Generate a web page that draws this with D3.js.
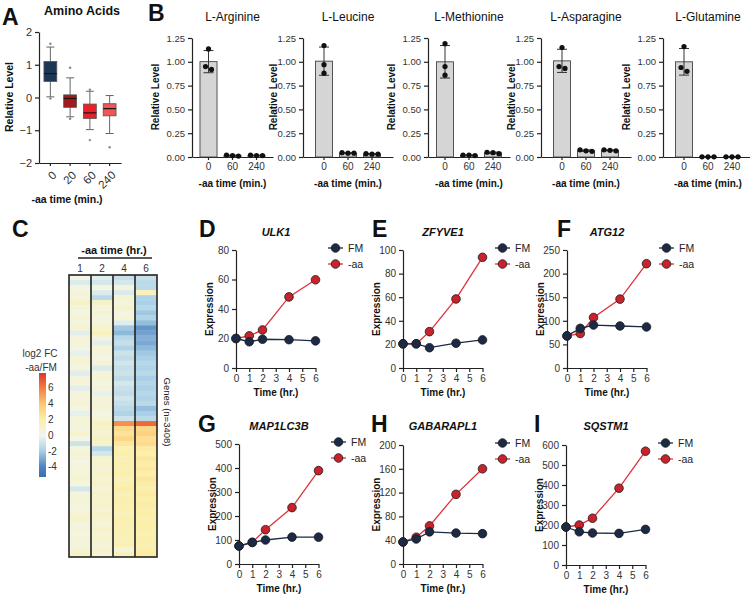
<!DOCTYPE html>
<html>
<head>
<meta charset="utf-8">
<script src="https://cdn.jsdelivr.net/npm/d3@7"></script>
<style>
  body { margin: 0; background: #fff; }
  svg { font-family: "Liberation Sans", Arial, Helvetica, sans-serif; }
</style>
</head>
<body>
<svg id="fig" width="750" height="595"></svg>
<script>
// ---------- data ----------

// A: amino acid levels, box plot per -aa time (min.)
const aaGroups = ["0", "20", "60", "240"];
const aaQ1 = [0.49, -0.30, -0.64, -0.56];
const aaMedian = [0.73, -0.03, -0.47, -0.34];
const aaQ3 = [1.10, 0.08, -0.20, -0.19];
const aaWhiskLo = [0.02, -0.59, -0.98, -1.10];
const aaWhiskHi = [1.54, 0.60, 0.19, 0.06];
const aaOutliers = [[1.64, -0.03], [0.91, -0.65], [0.24, -1.30], [-1.52]];
const aaColors = ["#1e3656", "#a3191d", "#e8222a", "#ef5656"];

// B: single amino acids, 3 replicates per time point
const bCompounds = ["L-Arginine", "L-Leucine", "L-Methionine", "L-Asparagine", "L-Glutamine"];
const bTimes = ["0", "60", "240"];
const argReps = [[1.135, 0.92, 0.95], [0.01, 0.02, 0.015], [0.015, 0.02, 0.015]];
const leuReps = [[1.17, 0.97, 0.88], [0.04, 0.045, 0.04], [0.03, 0.035, 0.03]];
const metReps = [[1.19, 0.95, 0.86], [0.015, 0.02, 0.02], [0.035, 0.05, 0.045]];
const asnReps = [[1.15, 0.93, 0.95], [0.06, 0.075, 0.065], [0.065, 0.075, 0.07]];
const glnReps = [[1.16, 0.94, 0.90], [0.002, 0.002, 0.002], [0.002, 0.002, 0.002]];
const bTicks = [0, 0.25, 0.5, 0.75, 1.0, 1.25];

// C: heat map of log2 FC (-aa/FM), rows top to bottom, one array per time (hr.)
const hmTimes = ["1", "2", "4", "6"];
const hm1 = [0.3, -0.6, 0.4, 0.6, 0.5, 1.2, 0.6, 0.4, 0.8, 0.5, 0.9, -0.4, 0.5, 0.7, 0.3, -0.3, 0.6, 0.8, 0.4, -0.5,
  0.5, 0.7, -0.4, 0.6, 0.5, 0.8, 0.4, -0.3, 0.6, 0.7, 0.5, 1.0, 0.4, -1.0, 0.6, 0.8, 0.5, 0.3, 0.7, 0.5,
  0.9, 0.4, -0.8, 0.5, 0.7, 0.6, 0.4, 0.8, 1.1, 0.5, 0.6, 0.4, 0.7, 0.5, 0.8, 1.2];
const hm2 = [-0.5, -0.8, 0.4, -0.6, -1.5, 1.2, 0.5, 0.8, 0.3, 0.6, 0.9, 1.4, 0.5, -0.4, 0.7, 0.6, 0.3, 0.8, -0.6, 0.5,
  0.7, 0.4, 0.6, -0.3, 0.5, 0.8, 0.6, 0.4, 0.7, 1.3, 1.0, 0.8, 1.2, 1.0, -1.6, -0.8, 0.9, 1.0, 0.8, 1.1,
  0.9, 1.0, 0.7, 1.0, 0.9, 1.1, 0.8, 1.0, 0.9, 0.7, 1.0, 0.8, 0.9, 0.6, 1.0, 0.8];
const hm4 = [-1.2, -0.8, 0.5, -0.6, 0.8, 0.6, 1.0, 0.4, 0.7, -0.5, -2.2, -2.6, -1.6, -1.2, -1.8, -1.0, -1.3, -0.9, -1.2, -1.0,
  -1.4, -0.8, -1.1, -1.3, -0.9, -1.2, -1.5, -1.8, -1.0, 5.5, 3.0, 2.6, 3.2, 2.4, 1.8, 2.0, 1.6, 1.9, 1.7, 2.0,
  1.5, 1.8, 2.1, 1.6, 1.9, 1.7, 1.8, 1.5, 1.9, 1.7, 1.6, 1.8, 1.4, 1.7, 0.6, 1.5];
const hm6 = [-1.2, -1.5, -1.5, 1.5, -1.8, -2.0, -1.6, -2.2, -1.8, -2.5, -3.5, -3.2, -2.8, -3.0, -2.6, -2.2, -2.0, -1.6, -1.8, -1.5,
  -2.0, -1.7, -1.9, -1.6, -1.8, -1.5, -2.4, -2.0, -1.5, 6.5, 3.2, 3.5, 2.8, 3.0, 2.2, 2.0, 2.4, 2.1, 2.3, 2.0,
  2.5, 2.1, 1.9, 2.2, 2.0, 2.1, 1.9, 2.0, 1.8, 2.0, 1.9, 1.8, 2.0, 1.7, 1.9, 2.1];
const hmLegendTicks = [6, 4, 2, 0, -2, -4];

// D-I: expression over time (hr.)
const timeHr = [0, 1, 2, 4, 6];
const genes = ["ULK1", "ZFYVE1", "ATG12", "MAP1LC3B", "GABARAPL1", "SQSTM1"];
const ulk1FM = [20, 17.8, 19.5, 19.2, 18.4];
const ulk1AA = [20, 21.8, 25.8, 48.2, 59.8];
const zfyve1FM = [20.5, 20.5, 17.2, 21, 23.8];
const zfyve1AA = [20.5, 20.5, 30.8, 58.5, 93.8];
const atg12FM = [68, 84, 91, 89, 87];
const atg12AA = [68, 73, 107, 146, 221];
const lc3bFM = [75, 90, 100, 112, 112];
const lc3bAA = [75, 90, 143, 235, 389];
const gabarapl1FM = [37, 42, 54, 52, 51];
const gabarapl1AA = [37, 45, 64, 117, 160];
const sqstm1FM = [190, 166, 160, 158, 178];
const sqstm1AA = [190, 200, 234, 384, 569];

// ---------- drawing ----------
const svg = d3.select("#fig");
const ink = "#222";
const navy = "#1c2a45", redFill = "#c8232c", redLine = "#e0323a";

function styleAxis(g, fs) {
  g.attr("font-family", null).attr("font-size", null);
  g.selectAll("path.domain").attr("stroke", ink).attr("stroke-width", 1.2);
  g.selectAll(".tick line").attr("stroke", ink).attr("stroke-width", 1.2);
  g.selectAll(".tick text").attr("fill", "#333").attr("font-size", fs);
}

function label(t, x, y, size, opts = {}) {
  const el = svg.append("text").attr("x", x).attr("y", y).attr("font-size", size)
    .attr("fill", opts.fill || "#111").text(t);
  if (opts.bold) el.attr("font-weight", "bold");
  if (opts.italic) el.attr("font-style", "italic");
  if (opts.anchor) el.attr("text-anchor", opts.anchor);
  if (opts.rotate) el.attr("transform", `rotate(${opts.rotate},${x},${y})`);
  return el;
}

// panel letters
[["A", 2, 25], ["B", 148, 21], ["C", 12, 237], ["D", 199, 237], ["E", 372, 237], ["F", 557, 237],
 ["G", 198, 432], ["H", 371, 432], ["I", 534, 432]].forEach(([t, x, y]) => label(t, x, y, 23, { bold: true }));

// ===== A =====
const ayA = d3.scaleLinear().domain([-2, 2]).range([163, 32]);
const axA = d3.scaleBand().domain(aaGroups).range([39, 121]).paddingInner(0.35).paddingOuter(0.25);
const gA = svg.append("g");
gA.append("g").attr("transform", "translate(39,0)")
  .call(d3.axisLeft(ayA).tickValues([-2, -1, 0, 1, 2]).tickSize(4).tickSizeOuter(0).tickFormat(d3.format("d")))
  .call(g => styleAxis(g, 11));
gA.append("g").attr("transform", "translate(0,163)")
  .call(d3.axisBottom(axA).tickSize(3).tickSizeOuter(0))
  .call(g => styleAxis(g, 11.5))
  .call(g => g.selectAll(".tick text").attr("text-anchor", "end").attr("x", 0).attr("y", 0)
    .attr("dy", "0.35em").attr("transform", "translate(4,10) rotate(-45)"));

aaGroups.forEach((grp, i) => {
  const cx = axA(grp) + axA.bandwidth() / 2, bw = axA.bandwidth();
  const w = gA.append("g");
  w.append("line").attr("x1", cx).attr("x2", cx).attr("y1", ayA(aaWhiskLo[i])).attr("y2", ayA(aaWhiskHi[i]))
    .attr("stroke", "#666").attr("stroke-width", 1);
  [aaWhiskLo[i], aaWhiskHi[i]].forEach(v => w.append("line").attr("x1", cx - 4).attr("x2", cx + 4)
    .attr("y1", ayA(v)).attr("y2", ayA(v)).attr("stroke", "#666").attr("stroke-width", 1));
  w.append("rect").attr("x", cx - bw / 2).attr("width", bw).attr("y", ayA(aaQ3[i]))
    .attr("height", ayA(aaQ1[i]) - ayA(aaQ3[i])).attr("fill", aaColors[i]).attr("stroke", "#555").attr("stroke-width", 0.8);
  w.append("line").attr("x1", cx - bw / 2).attr("x2", cx + bw / 2).attr("y1", ayA(aaMedian[i])).attr("y2", ayA(aaMedian[i]))
    .attr("stroke", "#151515").attr("stroke-width", 1.2);
  aaOutliers[i].forEach(v => w.append("circle").attr("cx", cx).attr("cy", ayA(v)).attr("r", 1.2).attr("fill", "#888"));
});
label("Amino Acids", 82, 15, 12.5, { bold: true, anchor: "middle" });
label("Relative Level", 13, 97, 10.5, { bold: true, anchor: "middle", rotate: -90 });
label("-aa time (min.)", 67, 203, 10.5, { bold: true, anchor: "middle" });

// ===== B =====
const bRepsAll = [argReps, leuReps, metReps, asnReps, glnReps];
const bAxisX = [192, 303, 428, 541, 663];
const bFirstOff = [16.5, 21, 17, 21, 21];
const bStep = 24, bPadIn = 0.29;
const byB = d3.scaleLinear().domain([0, 1.25]).range([157, 38]);

function swarmOffsets(vals, y, d, step) {
  const idx = vals.map((v, i) => i).sort((a, b) => vals[b] - vals[a]);
  const out = new Array(vals.length).fill(0);
  let cluster = [idx[0]];
  const flush = () => cluster.forEach((k, j) => out[k] = (j - (cluster.length - 1) / 2) * step);
  for (let n = 1; n < idx.length; n++) {
    if (Math.abs(y(vals[idx[n]]) - y(vals[cluster[cluster.length - 1]])) < d) cluster.push(idx[n]);
    else { flush(); cluster = [idx[n]]; }
  }
  flush();
  return out;
}

bCompounds.forEach((name, p) => {
  const ax0 = bAxisX[p];
  const bw = bStep * (1 - bPadIn);
  const po = (bFirstOff[p] - bw / 2) / bStep;
  const x = d3.scaleBand().domain(bTimes).range([ax0, ax0 + bStep * (3 - bPadIn + 2 * po)])
    .paddingInner(bPadIn).paddingOuter(po);
  const g = svg.append("g");
  g.append("g").attr("transform", `translate(${ax0},0)`)
    .call(d3.axisLeft(byB).tickValues(bTicks).tickSize(4).tickSizeOuter(0).tickFormat(d3.format(".2f")))
    .call(a => styleAxis(a, 9.5));
  g.append("g").attr("transform", "translate(0,157)")
    .call(d3.axisBottom(x).tickSize(3).tickSizeOuter(0))
    .call(a => styleAxis(a, 10));
  const reps = bRepsAll[p];
  bTimes.forEach((t, i) => {
    const m = d3.mean(reps[i]), sd = d3.deviation(reps[i]);
    const cx = x(t) + x.bandwidth() / 2;
    g.append("rect").attr("x", x(t)).attr("width", x.bandwidth()).attr("y", byB(m))
      .attr("height", byB(0) - byB(m)).attr("fill", "#d5d5d5").attr("stroke", "#444").attr("stroke-width", 0.9);
    g.append("line").attr("x1", cx).attr("x2", cx).attr("y1", byB(m - sd)).attr("y2", byB(m + sd))
      .attr("stroke", "#333").attr("stroke-width", 1);
    [m - sd, m + sd].forEach(v => g.append("line").attr("x1", cx - 5).attr("x2", cx + 5)
      .attr("y1", byB(v)).attr("y2", byB(v)).attr("stroke", "#333").attr("stroke-width", 1));
    const offs = swarmOffsets(reps[i], byB, 5.5, 6);
    reps[i].forEach((v, k) => g.append("circle").attr("cx", cx + offs[k]).attr("cy", byB(v))
      .attr("r", 2.6).attr("fill", "#111"));
  });
  const rEnd = x.range()[1];
  label(name, (ax0 + rEnd) / 2, 21, 12, { anchor: "middle" });
  label("Relative Level", ax0 - (p % 2 === 0 ? 33 : 26), 97, 10, { bold: true, anchor: "middle", rotate: -90 });
  label("-aa time (min.)", (ax0 + rEnd) / 2, 187, 10, { bold: true, anchor: "middle" });
});

// ===== C =====
const hmCols = [hm1, hm2, hm4, hm6];
const hmTop = 275, hmBottom = 557;
const hmX = d3.scaleBand().domain(hmTimes).range([69, 157]);
const hmColor = d3.scaleLinear()
  .domain([-5.3, -4, -2, 0, 2, 4, 6, 8])
  .range(["#3d6db0", "#4f82bf", "#a9d0e6", "#f1f6ee", "#fbefaa", "#fdc771", "#f47c40", "#d7352a"])
  .clamp(true);
const gC = svg.append("g");
hmCols.forEach((col, c) => {
  const h = (hmBottom - hmTop) / col.length;
  gC.append("g").selectAll("rect").data(col).join("rect")
    .attr("x", hmX(hmTimes[c])).attr("width", hmX.bandwidth())
    .attr("y", (d, i) => hmTop + i * h).attr("height", h + 0.4)
    .attr("fill", d => hmColor(d));
});
hmTimes.slice(1).forEach(t => gC.append("line").attr("x1", hmX(t)).attr("x2", hmX(t))
  .attr("y1", hmTop).attr("y2", hmBottom).attr("stroke", "#222").attr("stroke-width", 1.6));
gC.append("rect").attr("x", 69).attr("y", hmTop).attr("width", 88).attr("height", hmBottom - hmTop)
  .attr("fill", "none").attr("stroke", "#222").attr("stroke-width", 1.6);
hmTimes.forEach(t => label(t, hmX(t) + hmX.bandwidth() / 2, 272, 10, { anchor: "middle", fill: "#333" }));
label("-aa time (hr.)", 114, 254, 11, { bold: true, anchor: "middle" });
gC.append("line").attr("x1", 78).attr("x2", 152).attr("y1", 258).attr("y2", 258).attr("stroke", "#222").attr("stroke-width", 1.3);
label("Genes (n=3408)", 164, 412, 9.5, { anchor: "middle", rotate: 90, fill: "#222" });

// colour bar
const cbY = d3.scaleLinear().domain([-5.3, 7.9]).range([477, 373]);
const grad = svg.append("defs").append("linearGradient").attr("id", "cbGrad")
  .attr("x1", 0).attr("y1", 0).attr("x2", 0).attr("y2", 1);
d3.range(0, 21).forEach(k => {
  const v = 7.9 - k * (13.2 / 20);
  grad.append("stop").attr("offset", `${k * 5}%`).attr("stop-color", hmColor(v));
});
gC.append("rect").attr("x", 39).attr("y", 373).attr("width", 7).attr("height", 104).attr("fill", "url(#cbGrad)");
hmLegendTicks.forEach(v => label(v, 48, cbY(v) + 3.5, 10, { fill: "#333" }));
label("log2 FC", 40, 357, 10, { anchor: "middle", fill: "#333" });
label("-aa/FM", 41, 371, 10, { anchor: "middle", fill: "#333" });

// ===== D-I =====
const linePanels = [
  { ax: 236, top: 250, bottom: 368, ymax: 80, ystep: 20, fm: ulk1FM, aa: ulk1AA, titleY: 236 },
  { ax: 403, top: 250, bottom: 368, ymax: 100, ystep: 20, fm: zfyve1FM, aa: zfyve1AA, titleY: 236 },
  { ax: 567, top: 250, bottom: 368, ymax: 250, ystep: 50, fm: atg12FM, aa: atg12AA, titleY: 236 },
  { ax: 239, top: 444, bottom: 564, ymax: 500, ystep: 100, fm: lc3bFM, aa: lc3bAA, titleY: 430 },
  { ax: 403, top: 445, bottom: 564, ymax: 200, ystep: 40, fm: gabarapl1FM, aa: gabarapl1AA, titleY: 430 },
  { ax: 566, top: 445, bottom: 565, ymax: 600, ystep: 100, fm: sqstm1FM, aa: sqstm1AA, titleY: 430 }
];

linePanels.forEach((p, i) => {
  const x = d3.scaleLinear().domain([0, 6]).range([p.ax, p.ax + 79.5]);
  const y = d3.scaleLinear().domain([0, p.ymax]).range([p.bottom, p.top]);
  const g = svg.append("g");
  g.append("g").attr("transform", `translate(${p.ax},0)`)
    .call(d3.axisLeft(y).tickValues(d3.range(0, p.ymax + 1, p.ystep)).tickSize(4).tickSizeOuter(0).tickFormat(d3.format("d")))
    .call(a => styleAxis(a, 10));
  g.append("g").attr("transform", `translate(0,${p.bottom})`)
    .call(d3.axisBottom(x).tickValues(d3.range(0, 7)).tickSize(4).tickSizeOuter(0).tickFormat(d3.format("d")))
    .call(a => styleAxis(a, 10));
  const line = d3.line().x((d, k) => x(timeHr[k])).y(d => y(d));
  [[p.aa, redLine, redFill], [p.fm, navy, navy]].forEach(([vals, lc, fc]) => {
    g.append("path").attr("d", line(vals)).attr("fill", "none").attr("stroke", lc).attr("stroke-width", 1.3);
    g.selectAll(null).data(vals).join("circle")
      .attr("cx", (d, k) => x(timeHr[k])).attr("cy", d => y(d)).attr("r", 4.3)
      .attr("fill", fc).attr("stroke", "#1a1a1a").attr("stroke-width", 0.8);
  });
  // legend
  [["FM", navy, navy, 0], ["-aa", redLine, redFill, 16]].forEach(([t, lc, fc, dy]) => {
    const ly = p.top - 2 + dy;
    g.append("line").attr("x1", p.ax + 92).attr("x2", p.ax + 107).attr("y1", ly).attr("y2", ly)
      .attr("stroke", lc).attr("stroke-width", 1.3);
    g.append("circle").attr("cx", p.ax + 99.5).attr("cy", ly).attr("r", 4.3)
      .attr("fill", fc).attr("stroke", "#1a1a1a").attr("stroke-width", 0.8);
    label(t, p.ax + 112, ly + 4, 10.5, { fill: "#222" });
  });
  label(genes[i], p.ax + 40, p.titleY, 11, { bold: true, italic: true, anchor: "middle" });
  label("Expression", p.ax - 23, (p.top + p.bottom) / 2, 10, { bold: true, anchor: "middle", rotate: -90 });
  label("Time (hr.)", p.ax + 40, p.bottom + 28, 10, { bold: true, anchor: "middle" });
});
</script>
</body>
</html>
